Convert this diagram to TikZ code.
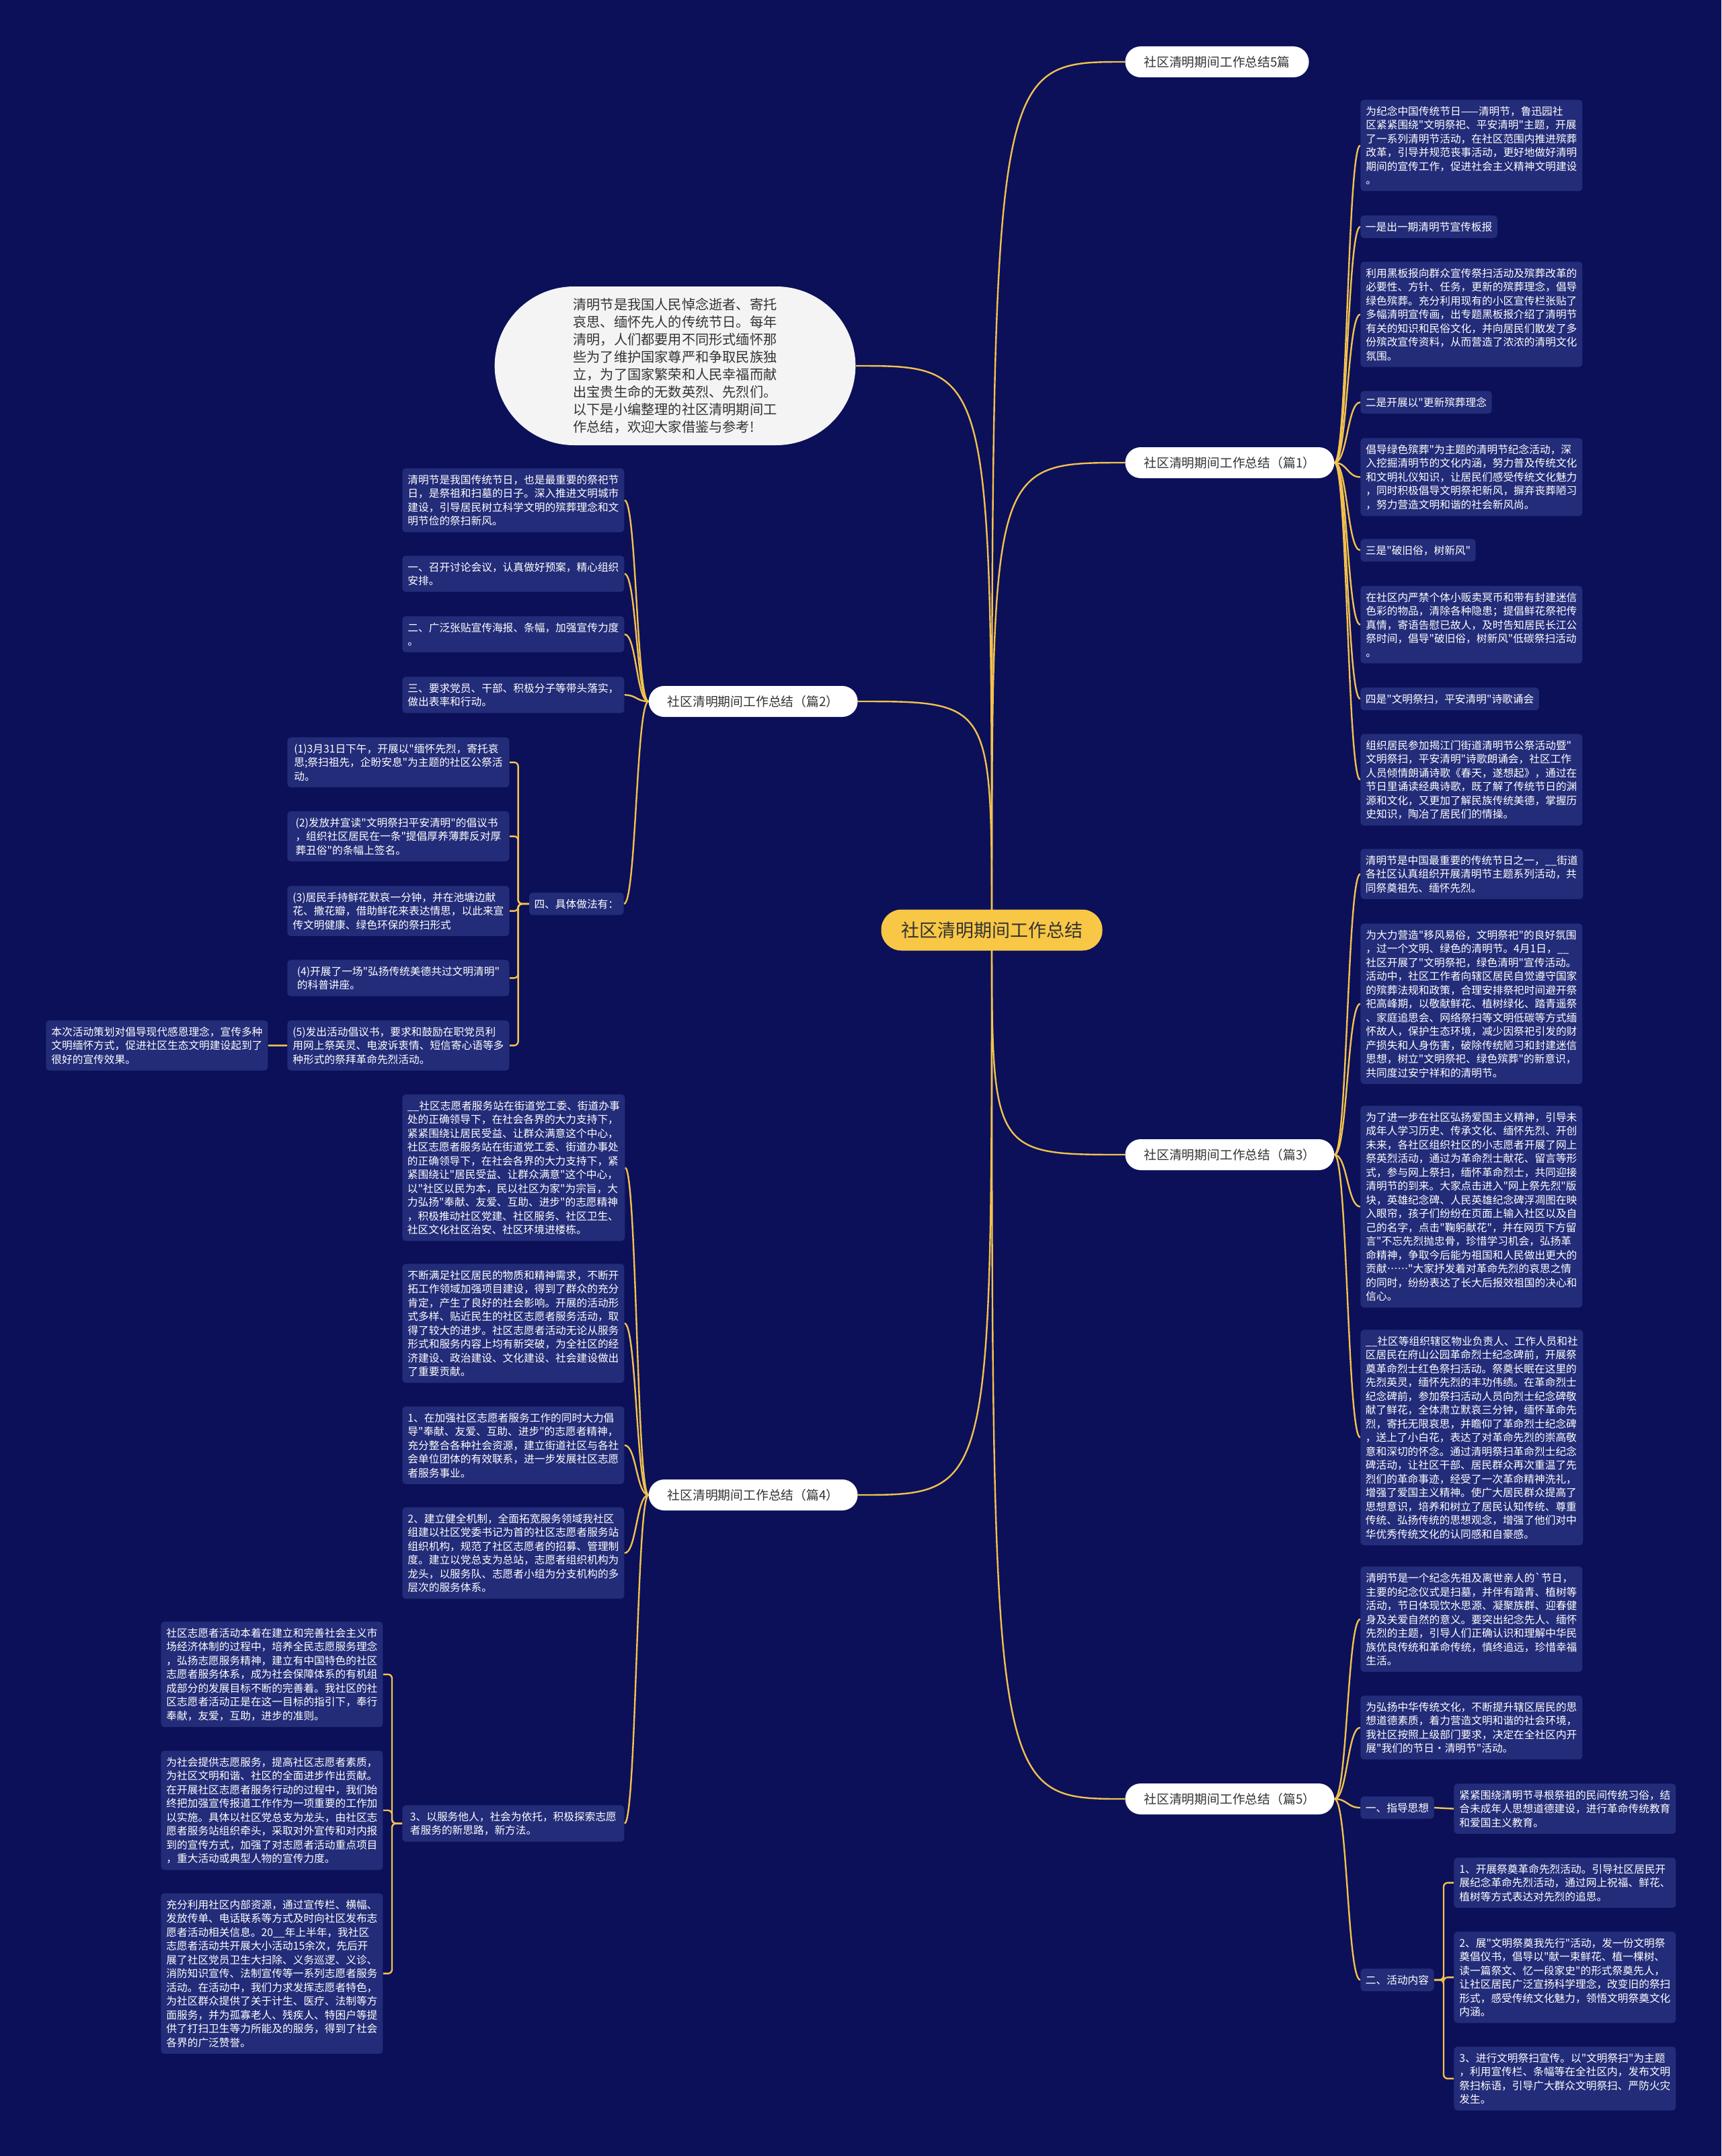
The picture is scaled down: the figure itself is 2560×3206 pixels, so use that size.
\documentclass[tikz,border=0pt]{standalone}
\usepackage{fontspec}
\setmainfont{Noto Sans CJK SC}
\usetikzlibrary{calc,shapes.misc}
\definecolor{bgc}{HTML}{0B1059}
\definecolor{leafc}{HTML}{232C78}
\definecolor{edgec}{HTML}{F2C14E}
\definecolor{centerc}{HTML}{F8C745}
\definecolor{darkt}{HTML}{333333}
\definecolor{bubblec}{HTML}{F4F4F4}
\pgfdeclarelayer{bg}\pgfdeclarelayer{edges}\pgfsetlayers{bg,edges,main}
\font\leafF="Noto Sans CJK SC" at 7.85pt
\font\branchF="Noto Sans CJK SC" at 9.4pt
\font\centerF="Noto Sans CJK SC" at 13.5pt
\font\bubbleF="Noto Sans CJK SC" at 10.1pt
\newcommand\leaffont{\leafF\baselineskip=10.25pt\relax}
\newcommand\branchfont{\branchF\baselineskip=11pt\relax}
\newcommand\centerfont{\centerF\baselineskip=15pt\relax}
\newcommand\bubblefont{\bubbleF\baselineskip=13.05pt\relax}
\newcommand\mcurve[2]{\draw[edge] let \p1=(#1), \p2=(#2) in (\p1) .. controls (\x1,\y2) .. (\p2);}
\newcommand\bcurve[2]{\draw[edge] let \p1=(#1), \p2=(#2) in (\p1) .. controls ({0.5*\x1+0.5*\x2},\y1) and ({0.5*\x1+0.5*\x2},\y2) .. (\p2);}
\newcommand\elbow[3]{\draw[edge,rounded corners=3pt] (#1) -- ($(#1)+(#2,0)$) |- (#3);}
\begin{document}
\begin{tikzpicture}[x={(0.5pt,0)},y={(0,-0.5pt)},
 leaf/.style={fill=leafc, text=white, rounded corners=2.5pt, inner xsep=3.75pt, inner ysep=4.7pt, align=left, font=\leaffont, anchor=north west},
 leafw/.style={leaf, minimum width=165pt},
 branch/.style={fill=white, text=darkt, rounded corners=11.5pt, inner xsep=14pt, inner ysep=0pt, minimum height=23pt, font=\branchfont},
 mainnode/.style={fill=centerc, text=darkt, rounded corners=15pt, minimum width=164.5pt, minimum height=30.5pt, font=\centerfont},
 bubble/.style={rounded rectangle, fill=bubblec, text=darkt, minimum width=275pt, minimum height=118pt, align=left, font=\bubblefont},
 edge/.style={draw=edgec, line width=1.2pt}]
\useasboundingbox (0,0) rectangle (2560,3206);
\begin{pgfonlayer}{bg}
\fill[bgc] (0,0) rectangle (2560,3206);
\end{pgfonlayer}
% center and branches
\node[mainnode] (C) at (1475,1383) {社区清明期间工作总结};
\node[bubble] (I) at (1004,544) {清明节是我国人民悼念逝者、寄托\\哀思、缅怀先人的传统节日。每年\\清明，人们都要用不同形式缅怀那\\些为了维护国家尊严和争取民族独\\立，为了国家繁荣和人民幸福而献\\出宝贵生命的无数英烈、先烈们。\\以下是小编整理的社区清明期间工\\作总结，欢迎大家借鉴与参考!};
\node[branch,anchor=west] (B0) at (1673,92) {社区清明期间工作总结5篇};
\node[branch,anchor=west] (B1) at (1673,688) {社区清明期间工作总结（篇1）};
\node[branch,anchor=east] (B2) at (1276,1043) {社区清明期间工作总结（篇2）};
\node[branch,anchor=west] (B3) at (1673,1717) {社区清明期间工作总结（篇3）};
\node[branch,anchor=east] (B4) at (1276,2223) {社区清明期间工作总结（篇4）};
\node[branch,anchor=west] (B5) at (1673,2675) {社区清明期间工作总结（篇5）};
% part 1
\node[leafw] (L1) at (2023,148) {为纪念中国传统节日——清明节，鲁迅园社\\区紧紧围绕"文明祭祀、平安清明"主题，开展\\了一系列清明节活动，在社区范围内推进殡葬\\改革，引导并规范丧事活动，更好地做好清明\\期间的宣传工作，促进社会主义精神文明建设\\。};
\node[leaf] (L2) at (2023,320) {一是出一期清明节宣传板报};
\node[leafw] (L3) at (2023,389) {利用黑板报向群众宣传祭扫活动及殡葬改革的\\必要性、方针、任务，更新的殡葬理念，倡导\\绿色殡葬。充分利用现有的小区宣传栏张贴了\\多幅清明宣传画，出专题黑板报介绍了清明节\\有关的知识和民俗文化，并向居民们散发了多\\份殡改宣传资料，从而营造了浓浓的清明文化\\氛围。};
\node[leaf] (L4) at (2023,581) {二是开展以"更新殡葬理念};
\node[leafw] (L5) at (2023,651) {倡导绿色殡葬"为主题的清明节纪念活动，深\\入挖掘清明节的文化内涵，努力普及传统文化\\和文明礼仪知识，让居民们感受传统文化魅力\\，同时积极倡导文明祭祀新风，摒弃丧葬陋习\\，努力营造文明和谐的社会新风尚。};
\node[leaf] (L6) at (2023,801) {三是"破旧俗，树新风"};
\node[leafw] (L7) at (2023,871) {在社区内严禁个体小贩卖冥币和带有封建迷信\\色彩的物品，清除各种隐患；提倡鲜花祭祀传\\真情，寄语告慰已故人，及时告知居民长江公\\祭时间，倡导"破旧俗，树新风"低碳祭扫活动\\。};
\node[leaf] (L8) at (2023,1022) {四是"文明祭扫，平安清明"诗歌诵会};
\node[leafw] (L9) at (2023,1091) {组织居民参加揭江门街道清明节公祭活动暨"\\文明祭扫，平安清明"诗歌朗诵会，社区工作\\人员倾情朗诵诗歌《春天，遂想起》，通过在\\节日里诵读经典诗歌，既了解了传统节日的渊\\源和文化，又更加了解民族传统美德，掌握历\\史知识，陶冶了居民们的情操。};
% part 3
\node[leafw] (R1) at (2023,1262) {清明节是中国最重要的传统节日之一，\_\_街道\\各社区认真组织开展清明节主题系列活动，共\\同祭奠祖先、缅怀先烈。};
\node[leafw] (R2) at (2023,1373) {为大力营造"移风易俗，文明祭祀"的良好氛围\\，过一个文明、绿色的清明节。4月1日，\_\_\\社区开展了"文明祭祀，绿色清明"宣传活动。\\活动中，社区工作者向辖区居民自觉遵守国家\\的殡葬法规和政策，合理安排祭祀时间避开祭\\祀高峰期，以敬献鲜花、植树绿化、踏青遥祭\\、家庭追思会、网络祭扫等文明低碳等方式缅\\怀故人，保护生态环境，减少因祭祀引发的财\\产损失和人身伤害，破除传统陋习和封建迷信\\思想，树立"文明祭祀、绿色殡葬"的新意识，\\共同度过安宁祥和的清明节。};
\node[leafw] (R3) at (2023,1644) {为了进一步在社区弘扬爱国主义精神，引导未\\成年人学习历史、传承文化、缅怀先烈、开创\\未来，各社区组织社区的小志愿者开展了网上\\祭英烈活动，通过为革命烈士献花、留言等形\\式，参与网上祭扫，缅怀革命烈士，共同迎接\\清明节的到来。大家点击进入"网上祭先烈"版\\块，英雄纪念碑、人民英雄纪念碑浮凋图在映\\入眼帘，孩子们纷纷在页面上输入社区以及自\\己的名字，点击"鞠躬献花"，并在网页下方留\\言"不忘先烈抛忠骨，珍惜学习机会，弘扬革\\命精神，争取今后能为祖国和人民做出更大的\\贡献……"大家抒发着对革命先烈的哀思之情\\的同时，纷纷表达了长大后报效祖国的决心和\\信心。};
\node[leafw] (R4) at (2023,1977) {\_\_社区等组织辖区物业负责人、工作人员和社\\区居民在府山公园革命烈士纪念碑前，开展祭\\奠革命烈士红色祭扫活动。祭奠长眠在这里的\\先烈英灵，缅怀先烈的丰功伟绩。在革命烈士\\纪念碑前，参加祭扫活动人员向烈士纪念碑敬\\献了鲜花，全体肃立默哀三分钟，缅怀革命先\\烈，寄托无限哀思，并瞻仰了革命烈士纪念碑\\，送上了小白花，表达了对革命先烈的崇高敬\\意和深切的怀念。通过清明祭扫革命烈士纪念\\碑活动，让社区干部、居民群众再次重温了先\\烈们的革命事迹，经受了一次革命精神洗礼，\\增强了爱国主义精神。使广大居民群众提高了\\思想意识，培养和树立了居民认知传统、尊重\\传统、弘扬传统的思想观念，增强了他们对中\\华优秀传统文化的认同感和自豪感。};
% part 5
\node[leafw] (F1) at (2023,2329) {清明节是一个纪念先祖及离世亲人的`节日，\\主要的纪念仪式是扫墓，并伴有踏青、植树等\\活动，节日体现饮水思源、凝聚族群、迎春健\\身及关爱自然的意义。要突出纪念先人、缅怀\\先烈的主题，引导人们正确认识和理解中华民\\族优良传统和革命传统，慎终追远，珍惜幸福\\生活。};
\node[leafw] (F2) at (2023,2521) {为弘扬中华传统文化，不断提升辖区居民的思\\想道德素质，着力营造文明和谐的社会环境，\\我社区按照上级部门要求，决定在全社区内开\\展"我们的节日·清明节"活动。};
\node[leaf] (F3) at (2023,2671) {一、指导思想};
\node[leaf] (F4) at (2023,2927) {二、活动内容};
\node[leafw] (F3c) at (2162,2652) {紧紧围绕清明节寻根祭祖的民间传统习俗，结\\合未成年人思想道德建设，进行革命传统教育\\和爱国主义教育。};
\node[leafw] (F4a) at (2162,2762) {1、开展祭奠革命先烈活动。引导社区居民开\\展纪念革命先烈活动，通过网上祝福、鲜花、\\植树等方式表达对先烈的追思。};
\node[leafw] (F4b) at (2162,2872) {2、展"文明祭奠我先行"活动，发一份文明祭\\奠倡仪书，倡导以"献一束鲜花、植一棵树、\\读一篇祭文、忆一段家史"的形式祭奠先人，\\让社区居民广泛宣扬科学理念，改变旧的祭扫\\形式，感受传统文化魅力，领悟文明祭奠文化\\内涵。};
\node[leafw] (F4c) at (2162,3043) {3、进行文明祭扫宣传。以"文明祭扫"为主题\\，利用宣传栏、条幅等在全社区内，发布文明\\祭扫标语，引导广大群众文明祭扫、严防火灾\\发生。};
% part 2
\node[leafw] (S1) at (598,696) {清明节是我国传统节日，也是最重要的祭祀节\\日，是祭祖和扫墓的日子。深入推进文明城市\\建设，引导居民树立科学文明的殡葬理念和文\\明节俭的祭扫新风。};
\node[leafw] (S2) at (598,826) {一、召开讨论会议，认真做好预案，精心组织\\安排。};
\node[leafw] (S3) at (598,916) {二、广泛张贴宣传海报、条幅，加强宣传力度\\。};
\node[leafw] (S4) at (598,1006) {三、要求党员、干部、积极分子等带头落实，\\做出表率和行动。};
\node[leaf,anchor=north east] (S5) at (928,1327) {四、具体做法有：};
\node[leafw] (S5a) at (427,1096) {(1)3月31日下午，开展以"缅怀先烈，寄托哀\\思;祭扫祖先，企盼安息"为主题的社区公祭活\\动。};
\node[leafw] (S5b) at (427,1206) {(2)发放并宣读"文明祭扫平安清明"的倡议书\\，组织社区居民在一条"提倡厚养薄葬反对厚\\葬丑俗"的条幅上签名。};
\node[leafw] (S5c) at (427,1317) {(3)居民手持鲜花默哀一分钟，并在池塘边献\\花、撒花瓣，借助鲜花来表达情思，以此来宣\\传文明健康、绿色环保的祭扫形式};
\node[leafw] (S5d) at (427,1427) {(4)开展了一场"弘扬传统美德共过文明清明"\\的科普讲座。};
\node[leafw] (S5e) at (427,1517) {(5)发出活动倡议书，要求和鼓励在职党员利\\用网上祭英灵、电波诉衷情、短信寄心语等多\\种形式的祭拜革命先烈活动。};
\node[leafw] (S5f) at (68,1517) {本次活动策划对倡导现代感恩理念，宣传多种\\文明缅怀方式，促进社区生态文明建设起到了\\很好的宣传效果。};
% part 4
\node[leafw] (T1) at (598,1627) {\_\_社区志愿者服务站在街道党工委、街道办事\\处的正确领导下，在社会各界的大力支持下，\\紧紧围绕让居民受益、让群众满意这个中心，\\社区志愿者服务站在街道党工委、街道办事处\\的正确领导下，在社会各界的大力支持下，紧\\紧围绕让"居民受益、让群众满意"这个中心，\\以"社区以民为本，民以社区为家"为宗旨，大\\力弘扬"奉献、友爱、互助、进步"的志愿精神\\，积极推动社区党建、社区服务、社区卫生、\\社区文化社区治安、社区环境进楼栋。};
\node[leafw] (T2) at (598,1879) {不断满足社区居民的物质和精神需求，不断开\\拓工作领域加强项目建设，得到了群众的充分\\肯定，产生了良好的社会影响。开展的活动形\\式多样、贴近民生的社区志愿者服务活动，取\\得了较大的进步。社区志愿者活动无论从服务\\形式和服务内容上均有新突破，为全社区的经\\济建设、政治建设、文化建设、社会建设做出\\了重要贡献。};
\node[leafw] (T3) at (598,2091) {1、在加强社区志愿者服务工作的同时大力倡\\导"奉献、友爱、互助、进步"的志愿者精神，\\充分整合各种社会资源，建立街道社区与各社\\会单位团体的有效联系，进一步发展社区志愿\\者服务事业。};
\node[leafw] (T4) at (598,2241) {2、建立健全机制，全面拓宽服务领域我社区\\组建以社区党委书记为首的社区志愿者服务站\\组织机构，规范了社区志愿者的招募、管理制\\度。建立以党总支为总站，志愿者组织机构为\\龙头，以服务队、志愿者小组为分支机构的多\\层次的服务体系。};
\node[leafw] (T5) at (598,2684) {3、以服务他人，社会为依托，积极探索志愿\\者服务的新思路，新方法。};
\node[leafw] (T5a) at (239,2411) {社区志愿者活动本着在建立和完善社会主义市\\场经济体制的过程中，培养全民志愿服务理念\\，弘扬志愿服务精神，建立有中国特色的社区\\志愿者服务体系，成为社会保障体系的有机组\\成部分的发展目标不断的完善着。我社区的社\\区志愿者活动正是在这一目标的指引下，奉行\\奉献，友爱，互助，进步的准则。};
\node[leafw] (T5b) at (239,2603) {为社会提供志愿服务，提高社区志愿者素质，\\为社区文明和谐、社区的全面进步作出贡献。\\在开展社区志愿者服务行动的过程中，我们始\\终把加强宣传报道工作作为一项重要的工作加\\以实施。具体以社区党总支为龙头，由社区志\\愿者服务站组织牵头，采取对外宣传和对内报\\到的宣传方式，加强了对志愿者活动重点项目\\，重大活动或典型人物的宣传力度。};
\node[leafw] (T5c) at (239,2815) {充分利用社区内部资源，通过宣传栏、横幅、\\发放传单、电话联系等方式及时向社区发布志\\愿者活动相关信息。20\_\_年上半年，我社区\\志愿者活动共开展大小活动15余次，先后开\\展了社区党员卫生大扫除、义务巡逻、义诊、\\消防知识宣传、法制宣传等一系列志愿者服务\\活动。在活动中，我们力求发挥志愿者特色，\\为社区群众提供了关于计生、医疗、法制等方\\面服务，并为孤寡老人、残疾人、特困户等提\\供了打扫卫生等力所能及的服务，得到了社会\\各界的广泛赞誉。};
% connectors
\begin{pgfonlayer}{edges}
\mcurve{C.center}{B0.west}
\mcurve{C.center}{B1.west}
\mcurve{C.center}{B3.west}
\mcurve{C.center}{B5.west}
\mcurve{C.center}{B2.east}
\mcurve{C.center}{B4.east}
\mcurve{C.center}{I.east}
\foreach \q in {L1,L2,L3,L4,L5,L6,L7,L8,L9} {\bcurve{B1.east}{\q.west}}
\foreach \q in {R1,R2,R3,R4} {\bcurve{B3.east}{\q.west}}
\foreach \q in {F1,F2,F3,F4} {\bcurve{B5.east}{\q.west}}
\foreach \q in {S1,S2,S3,S4,S5} {\bcurve{B2.west}{\q.east}}
\foreach \q in {T1,T2,T3,T4,T5} {\bcurve{B4.west}{\q.east}}
\foreach \q in {S5a,S5b,S5c,S5d,S5e} {\elbow{S5.west}{-16}{\q.east}}
\foreach \q in {F4a,F4b,F4c} {\elbow{F4.east}{14}{\q.west}}
\foreach \q in {T5a,T5b,T5c} {\elbow{T5.west}{-15}{\q.east}}
\draw[edge] (S5e.west) -- (S5f.east);
\draw[edge] (F3.east) -- (F3c.west);
\end{pgfonlayer}
\end{tikzpicture}
\end{document}
